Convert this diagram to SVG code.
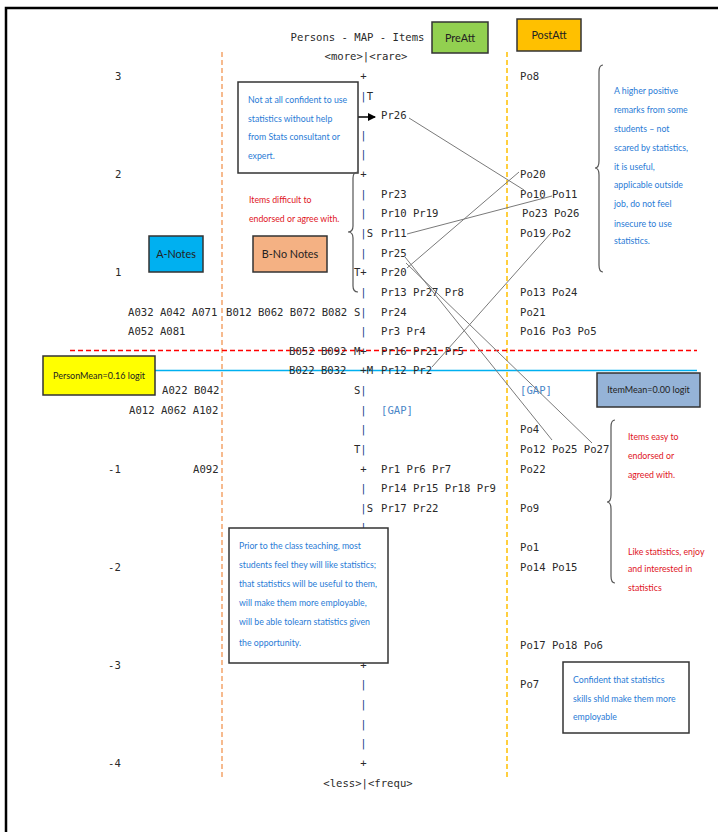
<svg xmlns="http://www.w3.org/2000/svg" width="718" height="832" viewBox="0 0 718 832">
<defs>
<style>
.m{font-family:"DejaVu Sans Mono","Liberation Mono",monospace;font-size:10.6px;fill:#2a2a2a}
.ax{fill:#24408c}
.gap{fill:#4a86c8}
.n{font-family:Lato,"Liberation Sans",sans-serif}
.bl{fill:#2a7bd6;font-size:10px}
.rd{fill:#e0141e;font-size:10px}
.lbl{font-size:10.8px;fill:#222;text-anchor:middle}
.box{stroke:#333;stroke-width:1.5}
.brace{fill:none;stroke:#555;stroke-width:1.2}
.con{stroke:#7a7a7a;stroke-width:1;fill:none}
</style>
<marker id="ah" markerWidth="8" markerHeight="8" refX="7" refY="4" orient="auto" markerUnits="userSpaceOnUse">
<path d="M0,0 L8,4 L0,8 Z" fill="#000"/>
</marker>
</defs>
<rect width="718" height="832" fill="#fff"/>
<path d="M6,832 V8 H718" fill="none" stroke="#000" stroke-width="2.5"/>

<g id="guides">
<line x1="222" y1="52" x2="222" y2="778" stroke="#f4a46a" stroke-width="1.5" stroke-dasharray="5,3"/>
<line x1="507" y1="52" x2="507" y2="778" stroke="#ffc000" stroke-width="1.5" stroke-dasharray="5,3"/>
<line x1="70" y1="350.5" x2="697" y2="350.5" stroke="#ff0000" stroke-width="1.5" stroke-dasharray="5,3"/>
<line x1="155" y1="370.5" x2="697" y2="370.5" stroke="#00b0f0" stroke-width="1.5"/>
</g>

<g id="map-text" class="m">
<text x="357.5" y="40.6" text-anchor="middle">Persons - MAP - Items</text>
<text x="366" y="60.2" text-anchor="middle">&lt;more&gt;|&lt;rare&gt;</text>
<text x="115" y="79.9">3</text><text x="360.3" y="79.9">+</text><text x="520" y="79.9">Po8</text>
<text x="360.3" y="99.5"><tspan class="ax">|</tspan>T</text>
<text x="381" y="119.2">Pr26</text>
<text x="360.3" y="138.8" class="ax">|</text>
<text x="360.3" y="158.4" class="ax">|</text>
<text x="115" y="178.1">2</text><text x="360.3" y="178.1">+</text><text x="520" y="178.1">Po20</text>
<text x="360.3" y="197.7" class="ax">|</text><text x="381" y="197.7">Pr23</text><text x="520" y="197.7">Po10 Po11</text>
<text x="360.3" y="217.3" class="ax">|</text><text x="381" y="217.3">Pr10 Pr19</text><text x="522" y="217.3">Po23 Po26</text>
<text x="360.3" y="237"><tspan class="ax">|</tspan>S</text><text x="381" y="237">Pr11</text><text x="520" y="237">Po19 Po2</text>
<text x="360.3" y="256.6" class="ax">|</text><text x="381" y="256.6">Pr25</text>
<text x="115" y="276.2">1</text><text x="353.9" y="276.2">T+</text><text x="381" y="276.2">Pr20</text>
<text x="360.3" y="295.8" class="ax">|</text><text x="381" y="295.8">Pr13 Pr27 Pr8</text><text x="520" y="295.8">Po13 Po24</text>
<text x="128" y="315.5">A032 A042 A071</text><text x="226" y="315.5">B012 B062 B072 B082</text><text x="353.9" y="315.5">S<tspan class="ax">|</tspan></text><text x="381" y="315.5">Pr24</text><text x="520" y="315.5">Po21</text>
<text x="128" y="335.1">A052 A081</text><text x="360.3" y="335.1" class="ax">|</text><text x="381" y="335.1">Pr3 Pr4</text><text x="520" y="335.1">Po16 Po3 Po5</text>
<text x="289" y="354.7">B052 B092</text><text x="353.9" y="354.7">M+</text><text x="381" y="354.7">Pr16 Pr21 Pr5</text>
<text x="289" y="374.4">B022 B032</text><text x="360.3" y="374.4">+M</text><text x="381" y="374.4">Pr12 Pr2</text>
<text x="162" y="394">A022 B042</text><text x="353.9" y="394">S<tspan class="ax">|</tspan></text><text x="520" y="394" class="gap">[GAP]</text>
<text x="129" y="413.6">A012 A062 A102</text><text x="360.3" y="413.6" class="ax">|</text><text x="381" y="413.6" class="gap">[GAP]</text>
<text x="360.3" y="433.2" class="ax">|</text><text x="520" y="433.2">Po4</text>
<text x="353.9" y="452.9">T<tspan class="ax">|</tspan></text><text x="520" y="452.9">Po12 Po25 Po27</text>
<text x="108" y="472.5">-1</text><text x="193" y="472.5">A092</text><text x="360.3" y="472.5">+</text><text x="381" y="472.5">Pr1 Pr6 Pr7</text><text x="520" y="472.5">Po22</text>
<text x="360.3" y="492.1" class="ax">|</text><text x="381" y="492.1">Pr14 Pr15 Pr18 Pr9</text>
<text x="360.3" y="511.8"><tspan class="ax">|</tspan>S</text><text x="381" y="511.8">Pr17 Pr22</text><text x="520" y="511.8">Po9</text>
<text x="360.3" y="531.4" class="ax">|</text>
<text x="520" y="551">Po1</text>
<text x="108" y="570.7">-2</text><text x="520" y="570.7">Po14 Po15</text>
<text x="520" y="649.2">Po17 Po18 Po6</text>
<text x="108" y="668.8">-3</text><text x="360.3" y="668.8">+</text>
<text x="360.3" y="688.4" class="ax">|</text><text x="520" y="688.4">Po7</text>
<text x="360.3" y="708.1" class="ax">|</text>
<text x="360.3" y="727.7" class="ax">|</text>
<text x="360.3" y="747.3" class="ax">|</text>
<text x="108" y="766.9">-4</text><text x="360.3" y="766.9">+</text>
<text x="368" y="786.6" text-anchor="middle">&lt;less&gt;|&lt;frequ&gt;</text>
</g>

<g id="connectors">
<line class="con" x1="409" y1="118" x2="524" y2="190"/>
<line class="con" x1="407" y1="268" x2="519" y2="172"/>
<line class="con" x1="407" y1="234" x2="552" y2="196"/>
<line class="con" x1="432" y1="367" x2="551" y2="233"/>
<line class="con" x1="405" y1="257" x2="552" y2="440"/>
<line class="con" x1="406" y1="263" x2="592" y2="443"/>
<line x1="358" y1="117" x2="375" y2="117" stroke="#000" stroke-width="1.5" marker-end="url(#ah)"/>
</g>

<g id="preatt"><rect class="box" x="432" y="22" width="56" height="31" fill="#92d050"/><text class="n lbl" x="460" y="42">PreAtt</text></g>
<g id="postatt"><rect class="box" x="517" y="19" width="64" height="32" fill="#ffc000"/><text class="n lbl" x="549" y="39">PostAtt</text></g>
<g id="a-notes"><rect class="box" x="149" y="236" width="54" height="36" fill="#00b0f0"/><text class="n lbl" x="176" y="258">A-Notes</text></g>
<g id="b-notes"><rect class="box" x="253" y="236" width="74" height="36" fill="#f4b183"/><text class="n lbl" x="290" y="258">B-No Notes</text></g>
<g id="person-mean"><rect class="box" x="43" y="356" width="112" height="39" fill="#ffff00"/><text class="n lbl" x="99" y="379.5" style="font-size:10px" transform="matrix(0.9,0,0,1,9.9,0)">PersonMean=0.16 logit</text></g>
<g id="item-mean"><rect class="box" x="597" y="373" width="103" height="34" fill="#95b3d7"/><text class="n lbl" x="648.5" y="393.5" style="font-size:10px" transform="matrix(0.9,0,0,1,64.85,0)">ItemMean=0.00 logit</text></g>

<g id="note-confident">
<rect class="box" x="238" y="82" width="120" height="91" fill="#fff"/>
<g transform="matrix(0.875,0,0,1,31,0)">
<text class="n bl" x="248" y="103.5">Not at all confident to use</text>
<text class="n bl" x="248" y="122">statistics without help</text>
<text class="n bl" x="248" y="140.5">from Stats consultant or</text>
<text class="n bl" x="248" y="159.5">expert.</text>
</g>
</g>

<g id="note-difficult">
<path class="brace" d="M358,172 Q353,172 353,178 L353,226 Q353,232 348,232 Q353,232 353,238 L353,286 Q353,292 358,292"/>
<g transform="matrix(0.875,0,0,1,31.125,0)">
<text class="n rd" x="249" y="203.5">Items difficult to</text>
<text class="n rd" x="249" y="222.5">endorsed or agree with.</text>
</g>
</g>

<g id="note-positive">
<path class="brace" d="M603,65 Q599,65 599,72 L599,161 Q599,168 595,168 Q599,168 599,175 L599,265 Q599,272 603,272"/>
<g transform="matrix(0.875,0,0,1,76.75,0)">
<text class="n bl" x="614" y="94">A higher positive</text>
<text class="n bl" x="614" y="113.5">remarks from  some</text>
<text class="n bl" x="614" y="132"> students – not</text>
<text class="n bl" x="614" y="151.5">scared by statistics,</text>
<text class="n bl" x="614" y="170">it is useful,</text>
<text class="n bl" x="614" y="188.5">applicable outside</text>
<text class="n bl" x="614" y="207.5">job, do not feel</text>
<text class="n bl" x="614" y="227">insecure to use</text>
<text class="n bl" x="614" y="244">statistics.</text>
</g>
</g>

<g id="note-easy">
<path class="brace" d="M615,420 Q611,420 611,427 L611,495 Q611,502 607,502 Q611,502 611,509 L611,576 Q611,583 615,583"/>
<g transform="matrix(0.875,0,0,1,78.5,0)">
<text class="n rd" x="628" y="440">Items easy to</text>
<text class="n rd" x="628" y="459.5">endorsed or</text>
<text class="n rd" x="628" y="478.5">agreed with.</text>
<text class="n rd" x="628" y="555">Like statistics, enjoy</text>
<text class="n rd" x="628" y="572">and interested in</text>
<text class="n rd" x="628" y="591">statistics</text>
</g>
</g>

<g id="note-prior">
<rect class="box" x="229" y="528" width="159" height="135" fill="#fff"/>
<g transform="matrix(0.875,0,0,1,29.875,0)">
<text class="n bl" x="239" y="549.5">Prior to the class teaching,  most</text>
<text class="n bl" x="239" y="568.5">students feel they will like statistics;</text>
<text class="n bl" x="239" y="587">that statistics will be useful to them,</text>
<text class="n bl" x="239" y="606">will make them more employable,</text>
<text class="n bl" x="239" y="625">will be able tolearn statistics given</text>
<text class="n bl" x="239" y="646">the opportunity.</text>
</g>
</g>

<g id="note-employable">
<rect class="box" x="563" y="662" width="126" height="71" fill="#fff"/>
<g transform="matrix(0.875,0,0,1,71.625,0)">
<text class="n bl" x="573" y="683.5">Confident that statistics</text>
<text class="n bl" x="573" y="702">skills shld make them more</text>
<text class="n bl" x="573" y="720">employable</text>
</g>
</g>
</svg>
